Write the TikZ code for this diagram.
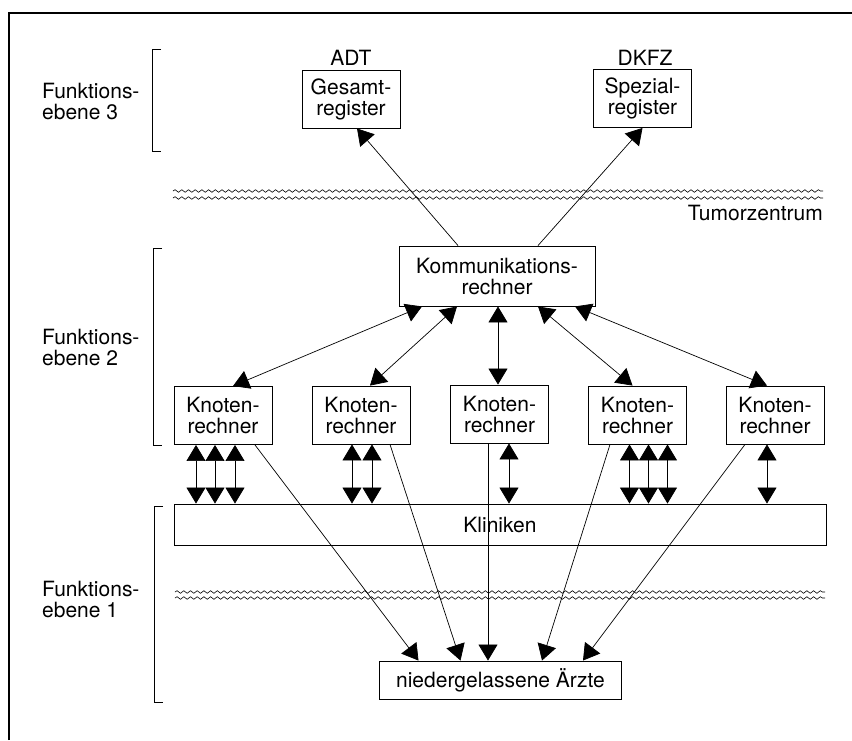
\documentclass[tikz,border=0pt]{standalone}
\usepackage{fontspec}
\setmainfont{TeX Gyre Heros}
\usetikzlibrary{arrows.meta,decorations.pathmorphing,calc}
\begin{document}
\begin{tikzpicture}[x=1pt,y=-1pt,
  txt/.style={font=\fontsize{21}{21}\selectfont, align=center, inner sep=0pt},
  box/.style={txt, draw, line width=0.9pt, minimum width=98pt, minimum height=58pt},
  arr/.style={line width=0.7pt, -{Triangle[width=19pt,length=16pt]}},
  dbl/.style={line width=0.7pt, {Triangle[width=19pt,length=16pt]}-{Triangle[width=19pt,length=16pt]}},
  wave/.style={line width=0.6pt, decorate, decoration={snake, segment length=6.7pt, amplitude=1.3pt}},
  brk/.style={line width=0.7pt}]
\useasboundingbox (0,0) rectangle (852,740);
% frame
\draw[line width=2pt] (9,740) -- (9,13) -- (852,13);
% brackets
\draw[brk] (161,49) -- (152,49) -- (152,151) -- (161,151);
\draw[brk] (162,248) -- (153,248) -- (153,445) -- (162,445);
\draw[brk] (163,506) -- (154,506) -- (154,702) -- (163,702);
% level labels
\node[txt, anchor=west, align=left] (f3) at (42,101) {Funktions-\\ebene 3};
\node[txt, anchor=west, align=left] (f2) at (42,347) {Funktions-\\ebene 2};
\node[txt, anchor=west, align=left] (f1) at (42,599) {Funktions-\\ebene 1};
% level 3
\node[txt] (adt) at (351,58) {ADT};
\node[txt] (dkfz) at (645,58) {DKFZ};
\node[box] (ges) at (351,99) {Gesamt-\\register};
\node[box] (spez) at (642.5,98.5) {Spezial-\\register};
% waves
\draw[wave] (173,191) -- (823,191);
\draw[wave] (173,198) -- (823,198);
\node[txt, anchor=east] (tz) at (823,213) {Tumorzentrum};
\draw[wave] (175,592) -- (825,592);
\draw[wave] (175,598) -- (825,598);
% level 2
\node[box, minimum width=196pt, minimum height=60pt] (komm) at (497,276) {Kommunikations-\\rechner};
\node[box] (k1) at (223,415.5) {Knoten-\\rechner};
\node[box] (k2) at (361,415) {Knoten-\\rechner};
\node[box] (k3) at (499.5,414) {Knoten-\\rechner};
\node[box] (k4) at (637.5,415) {Knoten-\\rechner};
\node[box] (k5) at (775,415) {Knoten-\\rechner};
% level 1
\node[box, minimum width=652pt, minimum height=41pt] (kl) at (500,524.5) {Kliniken};
\node[box, minimum width=242pt, minimum height=38pt] (ae) at (500.5,680) {niedergelassene Ärzte};
% komm -> registers
\draw[arr] ([xshift=-39pt]komm.north) -- ([xshift=6pt]ges.south);
\draw[arr] ([xshift=41pt]komm.north) -- ([xshift=0pt]spez.south);
% komm <-> knoten
\draw[dbl] ([xshift=-75pt]komm.south) -- ([xshift=10pt]k1.north);
\draw[dbl] ([xshift=-40pt]komm.south) -- ([xshift=9pt]k2.north);
\draw[dbl] ([xshift=1pt]komm.south) -- ([xshift=-1.5pt]k3.north);
\draw[dbl] ([xshift=41pt]komm.south) -- ([xshift=-5pt]k4.north);
\draw[dbl] ([xshift=78pt]komm.south) -- ([xshift=-8pt]k5.north);
% knoten <-> kliniken
\foreach \n/\s in {k1/-27, k1/-8, k1/12, k2/-9, k2/11, k3/9.5, k4/-8, k4/11, k4/30, k5/-8}{
  \draw[dbl] ([xshift=\s pt]\n.south) -- ([xshift=\s pt]\n.south |- kl.north);
}
% knoten -> aerzte
\draw[arr] ([xshift=32pt]k1.south) -- ([xshift=-82pt]ae.north);
\draw[arr] ([xshift=29pt]k2.south) -- ([xshift=-40pt]ae.north);
\draw[arr] ([xshift=-11.5pt]k3.south) -- ([xshift=-11.5pt]k3.south |- ae.north);
\draw[arr] ([xshift=-27.5pt]k4.south) -- ([xshift=41.5pt]ae.north);
\draw[arr] ([xshift=-30pt]k5.south) -- ([xshift=82.5pt]ae.north);
\end{tikzpicture}
\end{document}
